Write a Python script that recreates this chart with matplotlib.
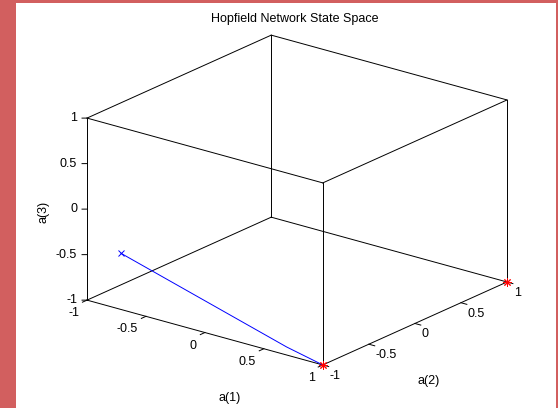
import numpy as np
import matplotlib
matplotlib.use('Agg')
import matplotlib.pyplot as plt
from matplotlib.patches import Rectangle
from mpl_toolkits.mplot3d import proj3d

# stored patterns (one column per pattern)
T_a1 = [1, 1]
T_a2 = [-1, 1]
T_a3 = [-1, -1]

# network state at each step, starting from the initial condition
rec_a1 = [-0.75, 0.60, 0.90, 1.0]
rec_a2 = [-0.95, -0.88, -0.97, -1.0]
rec_a3 = [-0.42, -1.0, -1.0, -1.0]

ticks = [-1, -0.5, 0, 0.5, 1]
ticklabels = ['-1', '-0.5', '0', '0.5', '1']
lo, hi = -1, 1

plt.rcParams['font.family'] = ['Liberation Sans', 'DejaVu Sans']
fs = 9

fig = plt.figure(figsize=(5.58, 4.08), dpi=100)
fig.patch.set_facecolor('white')
W, H = 558., 408.
red = '#d25f5f'
fig.add_artist(Rectangle((0, 0), 16/W, 1, transform=fig.transFigure, color=red, lw=0))
fig.add_artist(Rectangle((0, 1-3/H), 1, 3/H, transform=fig.transFigure, color=red, lw=0))
fig.add_artist(Rectangle((556/W, 0), 2/W, 1, transform=fig.transFigure, color=red, lw=0))

ax = fig.add_axes([0.0224, -0.0038, 1.0, 1.0], projection='3d')
ax.set_proj_type('ortho')
ax.view_init(elev=20.6, azim=-52)
ax.set_box_aspect((1, 1, 0.65), zoom=1.108)
ax.set_xlim(lo, hi); ax.set_ylim(lo, hi); ax.set_zlim(lo, hi)
ax.set_axis_off()

kline = dict(color='k', lw=0.7, clip_on=False)

# box edges, all twelve like a matlab 'box on'
c = [lo, hi]
for y in c:
    for z in c:
        ax.plot(c, [y, y], [z, z], **kline)
for x in c:
    for z in c:
        ax.plot([x, x], c, [z, z], **kline)
for x in c:
    for y in c:
        ax.plot([x, x], [y, y], c, **kline)

# tick marks
tl = 0.05
for t in ticks:
    ax.plot([t, t], [lo, lo - tl], [lo, lo], **kline)
    ax.plot([hi, hi + tl], [t, t], [lo, lo], **kline)
    ax.plot([lo, lo - 0.026], [lo, lo - 0.021], [t, t], **kline)

ax.plot(rec_a1, rec_a2, rec_a3, color='b', lw=0.7, clip_on=False)
ax.plot(rec_a1[:1], rec_a2[:1], rec_a3[:1], 'bx', ms=4, mew=0.7, clip_on=False)
ax.plot(T_a1, T_a2, T_a3, 'r', marker=(8, 2, 0), ls='none', ms=6, mew=0.7, clip_on=False)

M = ax.get_proj()
def p2d(x, y, z):
    xs, ys, _ = proj3d.proj_transform(np.array([x]), np.array([y]), np.array([z]), M)
    return xs[0], ys[0]

def lab(s, xyz, off, **kw):
    ax.annotate(s, xy=p2d(*xyz), xycoords='data', xytext=off,
                textcoords='offset pixels', fontsize=fs,
                annotation_clip=False, **kw)

for t, s in zip(ticks, ticklabels):
    lab(s, (t, lo, lo), (-8, -13), ha='right', va='center')
    lab(s, (hi, t, lo), (7, -11), ha='left', va='center')
    lab(s, (lo, lo, t), (-10, 0), ha='right', va='center')

lab('a(1)', (0, lo, lo), (25, -65), ha='center', va='center')
lab('a(2)', (hi, 0, lo), (14, -58), ha='center', va='center')
lab('a(3)', (lo, lo, 0), (-44, -3), ha='center', va='center', rotation=90)

fig.text(295/W, 1 - 19/H, 'Hopfield Network State Space', ha='center', va='center', fontsize=fs)

fig.savefig('out.png', dpi=100)
